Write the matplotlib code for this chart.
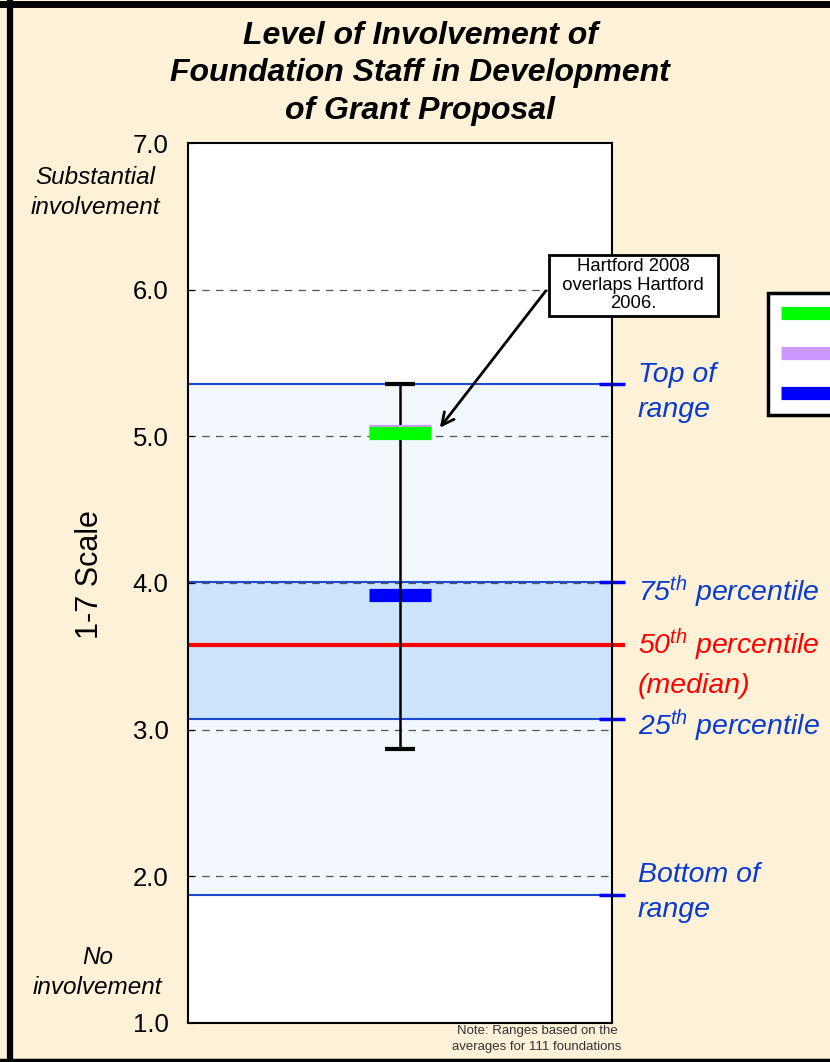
import matplotlib
matplotlib.use("Agg")
import matplotlib.pyplot as plt
from matplotlib.lines import Line2D

plt.rcParams['font.family'] = ['Liberation Sans', 'DejaVu Sans']
plt.rcParams['mathtext.fontset'] = 'custom'
plt.rcParams['mathtext.rm'] = 'Liberation Sans'
plt.rcParams['mathtext.it'] = 'Liberation Sans:italic'

# data
series_labels = ['Hartford 2008', 'Hartford 2006', 'Hartford 2004']
series_values = [5.02, 5.035, 3.92]
series_colors = ['#00FF00', '#CC99FF', '#0000FF']

range_bottom = 1.87
pct25 = 3.07
median = 3.58
pct75 = 4.01
range_top = 5.36

whisker_low = 2.87
whisker_high = 5.36

yticks = [1, 2, 3, 4, 5, 6, 7]
ytick_labels = ['%.1f' % t for t in yticks]
grid_levels = [2, 3, 4, 5, 6]

bg = '#FDF2D8'
blue_txt = '#0A3ACF'

fig = plt.figure(figsize=(8.3, 10.62), dpi=100, facecolor=bg)
ax = fig.add_axes([188 / 830, 1 - 1023 / 1062, 424 / 830, 880 / 1062])
ax.set_facecolor('white')
ax.set_xlim(0, 1)
ax.set_ylim(1, 7)

# shaded ranges
ax.axhspan(range_bottom, range_top, color='#F2F7FE', lw=0, zorder=0.5)
ax.axhspan(pct25, pct75, color='#CCE4FC', lw=0, zorder=0.6)

# range / percentile lines, with short ticks sticking out on the right
for v in [range_top, pct75, pct25, range_bottom]:
    ax.axhline(v, color='#1A4BD0', lw=1.5, zorder=1.4)
    ax.plot([0.97, 1.03], [v, v], color='#0000FF', lw=2.5, clip_on=False, zorder=1.6,
            solid_capstyle='butt')

for t in grid_levels:
    ax.axhline(t, color='#555555', lw=0.9, ls=(0, (6, 5)), zorder=1.5)

ax.plot([0, 1.03], [median, median], color='#FF0000', lw=3, clip_on=False, zorder=2,
        solid_capstyle='butt')

# whisker
mid = (whisker_low + whisker_high) / 2
ax.errorbar([0.5], [mid], yerr=[(whisker_high - whisker_low) / 2], fmt='none',
            ecolor='black', elinewidth=1.8, capsize=10.5, capthick=3, zorder=4)

handles = []
zs = [6, 5, 3]
for v, c, z in zip(series_values, series_colors, zs):
    h = ax.hlines(v, 0.5 - 0.073, 0.5 + 0.073, colors=c, lw=9.5, zorder=z)
    handles.append(h)

ax.set_xticks([])
ax.set_yticks(yticks)
ax.set_yticklabels(ytick_labels)
ax.tick_params(axis='y', direction='in', length=4, labelsize=18.5, pad=14)
for s in ax.spines.values():
    s.set_linewidth(1.5)
    s.set_color('black')

# right side labels
lbl = dict(fontsize=20.5, fontstyle='italic', ha='left', va='center', clip_on=False)
ax.text(1.061, 5.30, 'Top of\nrange', color=blue_txt, linespacing=1.45, **lbl)
ax.text(1.061, 3.94, r'75$^{\mathit{th}}$ percentile', color=blue_txt, **lbl)
ax.text(1.061, 3.578, r'50$^{\mathit{th}}$ percentile', color='#FF0000', **lbl)
ax.text(1.061, 3.30, '(median)', color='#FF0000', **lbl)
ax.text(1.061, 3.026, r'25$^{\mathit{th}}$ percentile', color=blue_txt, **lbl)
ax.text(1.061, 1.89, 'Bottom of\nrange', color=blue_txt, linespacing=1.45, **lbl)

# left side labels
ax.text(-0.219, 6.662, 'Substantial\ninvolvement', fontsize=17.5, fontstyle='italic',
        ha='center', va='center', linespacing=1.35, clip_on=False)
ax.text(-0.214, 1.345, 'No\ninvolvement', fontsize=17.5, fontstyle='italic',
        ha='center', va='center', linespacing=1.35, clip_on=False)

fig.text(90 / 830, 1 - 575 / 1062, '1-7 Scale', rotation=90, fontsize=22,
         ha='center', va='center')

fig.text(0.506, 0.931, 'Level of Involvement of\nFoundation Staff in Development\nof Grant Proposal',
         ha='center', va='center', fontsize=23, fontweight='bold', fontstyle='italic',
         linespacing=1.33)

# callout
ax.annotate('Hartford 2008\n  overlaps Hartford  \n2006.', xy=(0.590, 5.044),
            xytext=(1.05, 6.03), textcoords='data', ha='center', va='center',
            fontsize=13.3, linespacing=1.12, annotation_clip=False,
            bbox=dict(boxstyle='square,pad=0.2', fc='white', ec='black', lw=2),
            arrowprops=dict(arrowstyle='->', color='black', lw=2, mutation_scale=22,
                            relpos=(0.0, 0.55)))

fig.text(537 / 830, 1 - 1039 / 1062, 'Note: Ranges based on the\naverages for 111 foundations',
         ha='center', va='center', fontsize=9.5, color='#333333', linespacing=1.5, zorder=10)

# legend labels fall outside the picture in the reference, so only the swatches show
leg = fig.legend(handles, [' ', ' ', ' '], loc='upper left',
                 bbox_to_anchor=(768 / 830, 1 - 293 / 1062),
                 bbox_transform=fig.transFigure, frameon=True, fancybox=False, fontsize=12,
                 handlelength=4, labelspacing=1.5, borderpad=0.8, borderaxespad=0,
                 framealpha=1)
leg.get_frame().set_edgecolor('black')
leg.get_frame().set_linewidth(2.5)

# outer frame
fig.add_artist(Line2D([10 / 830, 10 / 830], [0, 1], transform=fig.transFigure, lw=4.5, color='black'))
fig.add_artist(Line2D([0, 1], [1 - 3.5 / 1062, 1 - 3.5 / 1062], transform=fig.transFigure, lw=5, color='black'))
fig.add_artist(Line2D([0, 1], [1.8 / 1062, 1.8 / 1062], transform=fig.transFigure, lw=2.5, color='black'))

fig.savefig('out.png', dpi=100, facecolor=bg)
